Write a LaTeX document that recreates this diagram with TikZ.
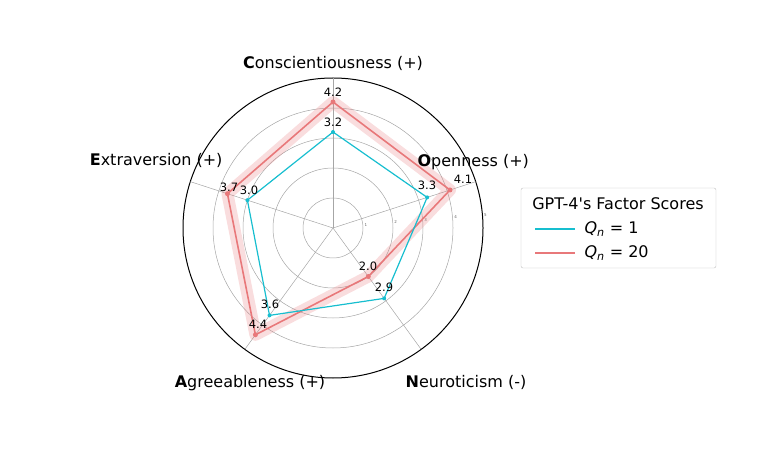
\documentclass[tikz,border=0pt]{standalone}
\usepackage{fontspec}
\setmainfont{DejaVu Sans}[Ligatures=TeXOff]
\begin{document}
\begin{tikzpicture}[x=1pt,y=-1pt,
  ax/.style={font=\fontsize{16}{16}\selectfont},
  val/.style={font=\fontsize{11.5}{11.5}\selectfont},
  tk/.style={font=\fontsize{4}{4}\selectfont,gray!80!black}]
\useasboundingbox (0,0) rectangle (768,454);
\definecolor{cy}{HTML}{17BECF}
\definecolor{rd}{HTML}{E8787A}
\coordinate (O) at (333,228);
\foreach \r in {30,60,90,120}{\draw[gray!70,line width=0.5pt] (O) circle[radius=\r];}
\draw[black,line width=1pt] (O) circle[radius=150];
\foreach \a in {90,18,-54,-126,162}{\draw[gray!70,line width=0.5pt] (O) -- ++({150*cos(\a)},{-150*sin(\a)});}
\foreach \i/\r in {1/33,2/63,3/93,4/123,5/153}{\node[tk] (t\i) at ({333+\r*cos(5)},{228-\r*sin(5)}) {\i};}
\foreach \n/\a/\v in {rc/90/4.2,ro/18/4.1,rn/-54/2.0,ra/-126/4.4,re/162/3.7}{
  \coordinate (\n) at ({333+30*\v*cos(\a)},{228-30*\v*sin(\a)});}
\foreach \n/\a/\v in {bc/90/3.2,bo/18/3.3,bn/-54/2.9,ba/-126/3.6,be/162/3.0}{
  \coordinate (\n) at ({333+30*\v*cos(\a)},{228-30*\v*sin(\a)});}
\draw[rd,opacity=0.25,line width=12pt,line join=round] (rc)--(ro)--(rn)--(ra)--(re)--cycle;
\draw[rd,line width=1.6pt,line join=round] (rc)--(ro)--(rn)--(ra)--(re)--cycle;
\foreach \n in {rc,ro,rn,ra,re}{\fill[rd] (\n) circle[radius=2.5];}
\draw[cy,line width=1.2pt] (bc)--(bo)--(bn)--(ba)--(be)--cycle;
\foreach \n in {bc,bo,bn,ba,be}{\fill[cy] (\n) circle[radius=2];}
\node[val] (l1) at (333,92) {4.2};
\node[val] (l2) at (333,122) {3.2};
\node[val] (l3) at (463,179) {4.1};
\node[val] (l4) at (427,185) {3.3};
\node[val] (l5) at (368,266) {2.0};
\node[val] (l6) at (384,287) {2.9};
\node[val] (l7) at (270,304) {3.6};
\node[val] (l8) at (258,324) {4.4};
\node[val] (l9) at (229,187) {3.7};
\node[val] (l10) at (249,190) {3.0};
\node[ax] (nc) at (333,63) {\textbf{C}onscientiousness (+)};
\node[ax,anchor=west] (no) at (414,162) {\textbf{O}penness (+)};
\node[ax,anchor=east] (ne) at (226,160) {\textbf{E}xtraversion (+)};
\node[ax] (na) at (250,383) {\textbf{A}greeableness (+)};
\node[ax] (nn) at (466,382) {\textbf{N}euroticism (-)};
\draw[gray!50,rounded corners=2pt,fill=white] (521,188) rectangle (716,268);
\node[ax] (lt) at (618,204) {GPT-4's Factor Scores};
\coordinate (c1a) at (535,229); \coordinate (c1b) at (575,229);
\coordinate (c2a) at (535,253); \coordinate (c2b) at (575,253);
\draw[cy,line width=1.2pt] (c1a)--(c1b);
\draw[rd,line width=1.6pt] (c2a)--(c2b);
\node[ax,anchor=west] (lq1) at (581,229) {\textit{Q}\textsubscript{\textit{n}} = 1};
\node[ax,anchor=west] (lq2) at (581,253) {\textit{Q}\textsubscript{\textit{n}} = 20};
\end{tikzpicture}
\end{document}
